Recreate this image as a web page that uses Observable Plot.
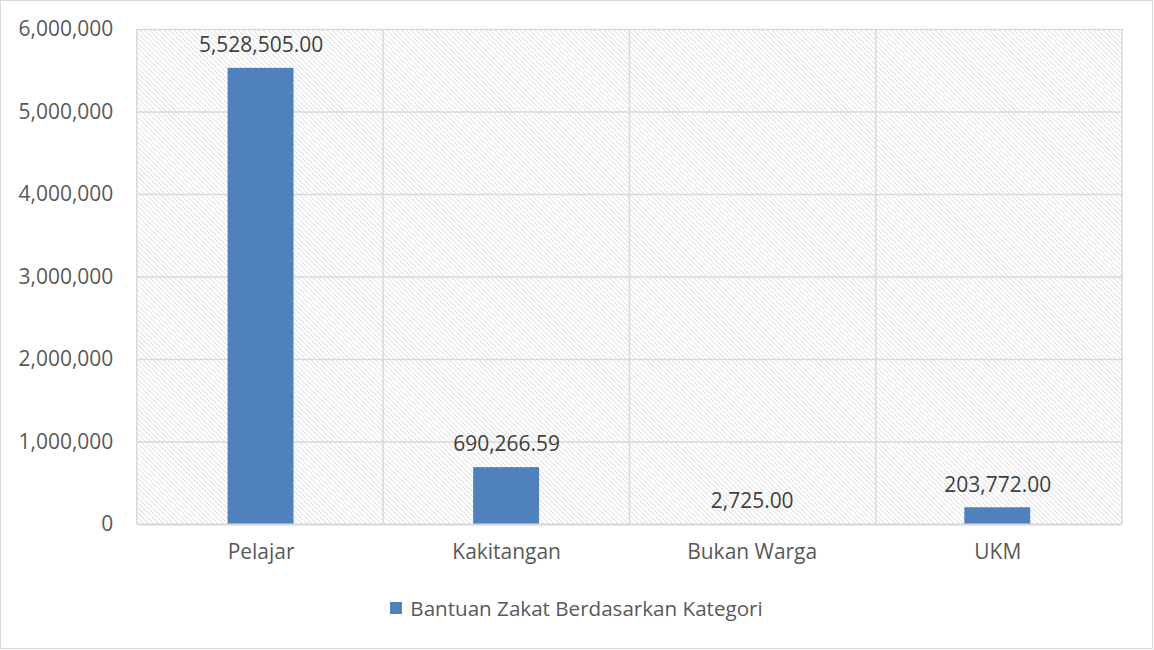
<!DOCTYPE html>
<html>
<head>
<meta charset="utf-8">
<script src="https://cdn.jsdelivr.net/npm/d3@7"></script>
<script src="https://cdn.jsdelivr.net/npm/@observablehq/plot@0.6"></script>
<style>
  html, body { margin: 0; padding: 0; background: #fff; }
  #wrap { position: relative; width: 1153px; height: 649px; box-sizing: border-box; border: 1px solid #d9d9d9; overflow: hidden; font-family: "Open Sans", sans-serif; }
  #chart { position: absolute; left: -1px; top: -1px; }
  #legend { position: absolute; left: 0; right: 0; top: 593px; display: flex; justify-content: center; align-items: center; font-size: 20.6px; color: #595959; }
  #legend .sw { width: 12px; height: 12px; background: #4F81BD; margin-right: 8px; }
</style>
</head>
<body>
<div id="wrap">
  <div id="chart"></div>
  <div id="legend"><span class="sw"></span><span id="legtext"></span></div>
</div>
<script>
const categories = ["Pelajar", "Kakitangan", "Bukan Warga", "UKM"];
const values = [5528505.00, 690266.59, 2725.00, 203772.00];
const yTicks = [0, 1000000, 2000000, 3000000, 4000000, 5000000, 6000000];
const seriesName = "Bantuan Zakat Berdasarkan Kategori";

const data = categories.map((c, i) => ({category: c, value: values[i]}));
const fmtAxis = d3.format(",");
const fmtLabel = d3.format(",.2f");

function verticalGrid(index, scales, values, dimensions) {
  const g = document.createElementNS("http://www.w3.org/2000/svg", "g");
  const {width, marginLeft, marginRight, marginTop, height, marginBottom} = dimensions;
  const n = categories.length;
  const step = (width - marginLeft - marginRight) / n;
  for (let i = 0; i <= n; i++) {
    const l = document.createElementNS("http://www.w3.org/2000/svg", "line");
    const x = marginLeft + i * step;
    l.setAttribute("x1", x); l.setAttribute("x2", x);
    l.setAttribute("y1", marginTop); l.setAttribute("y2", height - marginBottom);
    l.setAttribute("stroke", "#d9d9d9"); l.setAttribute("stroke-width", "1.5");
    g.appendChild(l);
  }
  return g;
}

const chart = Plot.plot({
  width: 1154,
  height: 580,
  marginTop: 29,
  marginBottom: 55,
  marginLeft: 137,
  marginRight: 30,
  style: {fontFamily: "'Open Sans', sans-serif", fontSize: "21px", color: "#595959", background: "transparent"},
  x: {domain: categories, paddingInner: 0.73, paddingOuter: 0.365, label: null},
  y: {domain: [0, 6000000], label: null},
  marks: [
    Plot.frame({fill: "url(#hatch)", stroke: null}),
    Plot.gridY(yTicks, {stroke: "#d9d9d9", strokeOpacity: 1, strokeWidth: 1.5}),
    verticalGrid,
    Plot.barY(data, {x: "category", y: "value", fill: "#4F81BD"}),
    Plot.ruleY([0], {stroke: "#d9d9d9", strokeWidth: 2}),
    Plot.text(data, {x: "category", y: "value", text: d => fmtLabel(d.value), dy: -23, fill: "#404040", fontSize: 21}),
    Plot.axisY(yTicks, {tickSize: 0, tickPadding: 24, tickFormat: fmtAxis, fontSize: 21, fill: "#595959"}),
    Plot.axisX({tickSize: 0, tickPadding: 20, fontSize: 21, fill: "#595959"})
  ]
});

const svgNS = "http://www.w3.org/2000/svg";
const defs = document.createElementNS(svgNS, "defs");
defs.innerHTML = '<pattern id="hatch" width="3.5" height="3.5" patternUnits="userSpaceOnUse" patternTransform="rotate(-45)"><rect width="3.5" height="3.5" fill="#ffffff"/><line x1="0" y1="0" x2="0" y2="3.5" stroke="#cccccc" stroke-width="1.1"/></pattern>';
chart.insertBefore(defs, chart.firstChild);
document.getElementById("chart").appendChild(chart);
document.getElementById("legtext").textContent = seriesName;
</script>
</body>
</html>
